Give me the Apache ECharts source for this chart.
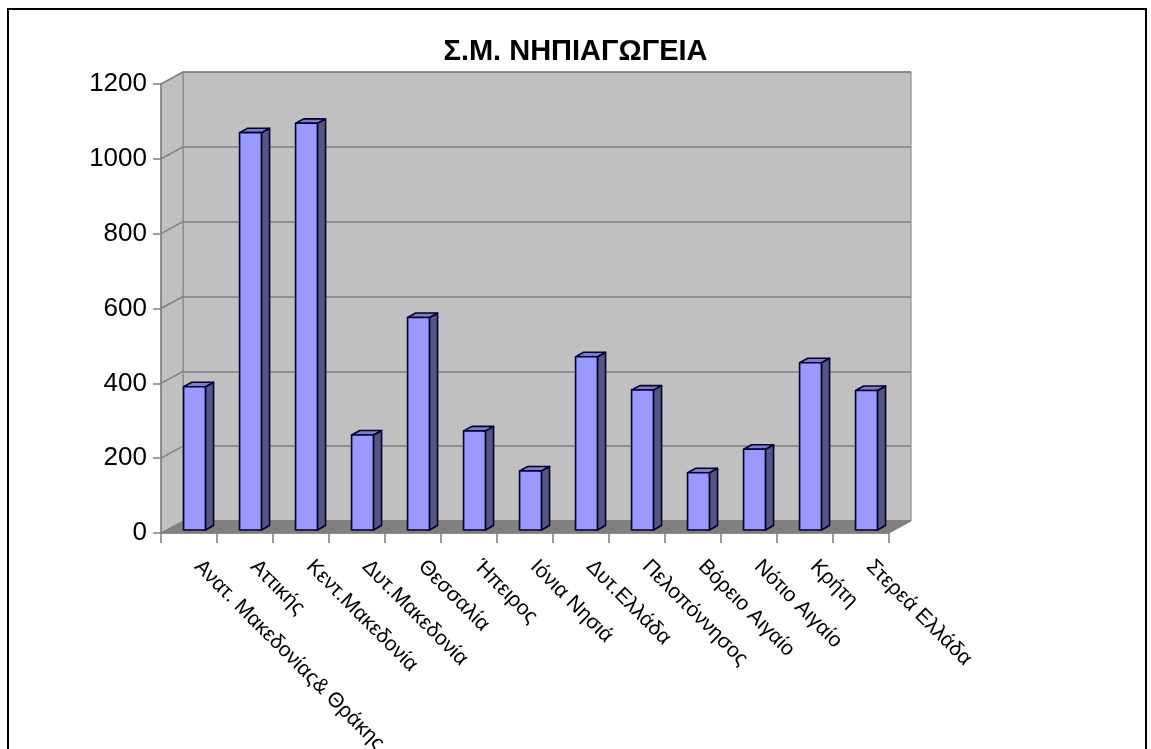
<!DOCTYPE html>
<html>
<head>
<meta charset="utf-8">
<script src="https://cdn.jsdelivr.net/npm/echarts@6/dist/echarts.min.js"></script>
<style>html,body{margin:0;padding:0;background:#fff;}#c{width:1151px;height:749px;}</style>
</head>
<body>
<div id="c"></div>
<script>
const title = 'Σ.Μ. ΝΗΠΙΑΓΩΓΕΙΑ';
const categories = ['Ανατ. Μακεδονίας& Θράκης','Αττικής','Κεντ.Μακεδονία','Δυτ.Μακεδονία','Θεσσαλία','Ήπειρος','Ιόνια Νησιά','Δυτ.Ελλάδα','Πελοπόννησος','Βόρειο Αιγαίο','Νότιο Αιγαίο','Κρήτη','Στερεά Ελλάδα'];
const values = [383, 1062, 1087, 254, 568, 265, 158, 463, 374, 153, 216, 447, 373];
const yTicks = [0, 200, 400, 600, 800, 1000, 1200];

const DEPTH = [22, -12];
const FONT = 'Liberation Sans, Arial, sans-serif';
const yMin = yTicks[0], yMax = yTicks[yTicks.length - 1], yStep = yTicks[1] - yTicks[0];

const chart = echarts.init(document.getElementById('c'), null, {renderer: 'canvas'});

function renderWalls(params, api) {
  const n = categories.length;
  const bw = api.size([1, 0])[0];
  const x0 = api.coord([0, yMin])[0] - bw / 2;
  const x1 = api.coord([n - 1, yMin])[0] + bw / 2;
  const y0 = api.coord([0, yMin])[1];
  const yT = api.coord([0, yMax])[1];
  const [dx, dy] = DEPTH;
  const children = [];
  children.push({type: 'polygon', shape: {points: [[x0, y0], [x0, yT], [x0 + dx, yT + dy], [x0 + dx, y0 + dy]]},
    style: {fill: '#c0c0c0', stroke: '#808080', lineWidth: 1}});
  yTicks.slice(1).forEach(t => {
    const y = api.coord([0, t])[1];
    children.push({type: 'line', shape: {x1: x0, y1: y, x2: x0 + dx, y2: y + dy}, style: {stroke: '#808080', lineWidth: 1.5}});
  });
  children.push({type: 'polygon', shape: {points: [[x0, y0], [x1, y0], [x1 + dx, y0 + dy], [x0 + dx, y0 + dy]]},
    style: {fill: '#808080', stroke: '#808080', lineWidth: 1}});
  return {type: 'group', children};
}

function renderBar(params, api) {
  const i = api.value(0), v = api.value(1);
  const base = api.coord([i, 0]);
  const top = api.coord([i, v]);
  const bw = api.size([1, 0])[0];
  const w = bw * 0.39;
  const ox = DEPTH[0] * 0.25, oy = DEPTH[1] * 0.25;
  const ddx = DEPTH[0] * 0.37, ddy = DEPTH[1] * 0.37;
  const xl = base[0] + ox - w / 2, xr = xl + w;
  const yb = base[1] + oy, yt = top[1] + oy;
  const st = {stroke: '#000033', lineWidth: 1.6, lineJoin: 'round'};
  return {type: 'group', children: [
    {type: 'polygon', shape: {points: [[xr, yt], [xr + ddx, yt + ddy], [xr + ddx, yb + ddy], [xr, yb]]}, style: Object.assign({fill: '#55557f'}, st)},
    {type: 'polygon', shape: {points: [[xl, yt], [xl + ddx, yt + ddy], [xr + ddx, yt + ddy], [xr, yt]]}, style: Object.assign({fill: '#7f7fc0'}, st)},
    {type: 'rect', shape: {x: xl, y: yt, width: w, height: yb - yt}, style: Object.assign({fill: '#9999ff'}, st)}
  ]};
}

const option = {
  animation: false,
  backgroundColor: '#ffffff',
  title: {
    text: title, left: 'center', top: 32,
    textStyle: {fontFamily: FONT, fontSize: 29, fontWeight: 'bold', color: '#000'}
  },
  graphic: [{
    type: 'rect', z: 100, silent: true,
    shape: {x: 8, y: 9, width: 1138, height: 780},
    style: {fill: 'none', stroke: '#000', lineWidth: 2}
  }],
  grid: [
    {left: 183, right: 240, top: 72, bottom: 228, outerBoundsMode: 'none', containLabel: false,
     show: true, backgroundColor: '#c0c0c0', borderColor: '#808080', borderWidth: 1},
    {left: 161, right: 262, top: 84, bottom: 216, outerBoundsMode: 'none', containLabel: false}
  ],
  xAxis: [
    {gridIndex: 0, type: 'category', data: categories, show: false},
    {gridIndex: 1, type: 'category', data: categories, boundaryGap: true, z: 10,
     axisLine: {lineStyle: {color: '#808080', width: 1.5}},
     axisTick: {show: true, interval: 0, length: 10, lineStyle: {color: '#808080', width: 1.5}},
     axisLabel: {interval: 0, rotate: -45, margin: 22, padding: [0, 0, 0, 12], fontSize: 21, fontFamily: FONT, color: '#000'},
     splitLine: {show: false}}
  ],
  yAxis: [
    {gridIndex: 0, type: 'value', min: yMin, max: yMax, interval: yStep,
     axisLabel: {show: false}, axisLine: {show: false}, axisTick: {show: false},
     splitLine: {show: true, lineStyle: {color: '#808080', width: 1.5}}},
    {gridIndex: 1, type: 'value', min: yMin, max: yMax, interval: yStep, z: 10,
     axisLine: {show: true, lineStyle: {color: '#808080', width: 1.5}},
     axisTick: {show: true, length: 8, lineStyle: {color: '#808080', width: 1.5}},
     axisLabel: {margin: 14, fontSize: 26, fontFamily: FONT, color: '#000', formatter: v => String(v)},
     splitLine: {show: false}}
  ],
  series: [
    {type: 'custom', name: 'walls', xAxisIndex: 1, yAxisIndex: 1, z: 1, silent: true,
     renderItem: renderWalls, data: [[0, 0]]},
    {type: 'custom', name: 'Σ.Μ. ΝΗΠΙΑΓΩΓΕΙΑ', xAxisIndex: 1, yAxisIndex: 1, z: 3,
     renderItem: renderBar, encode: {x: 0, y: 1},
     data: values.map((v, i) => [i, v])}
  ]
};
chart.setOption(option);
</script>
</body>
</html>
